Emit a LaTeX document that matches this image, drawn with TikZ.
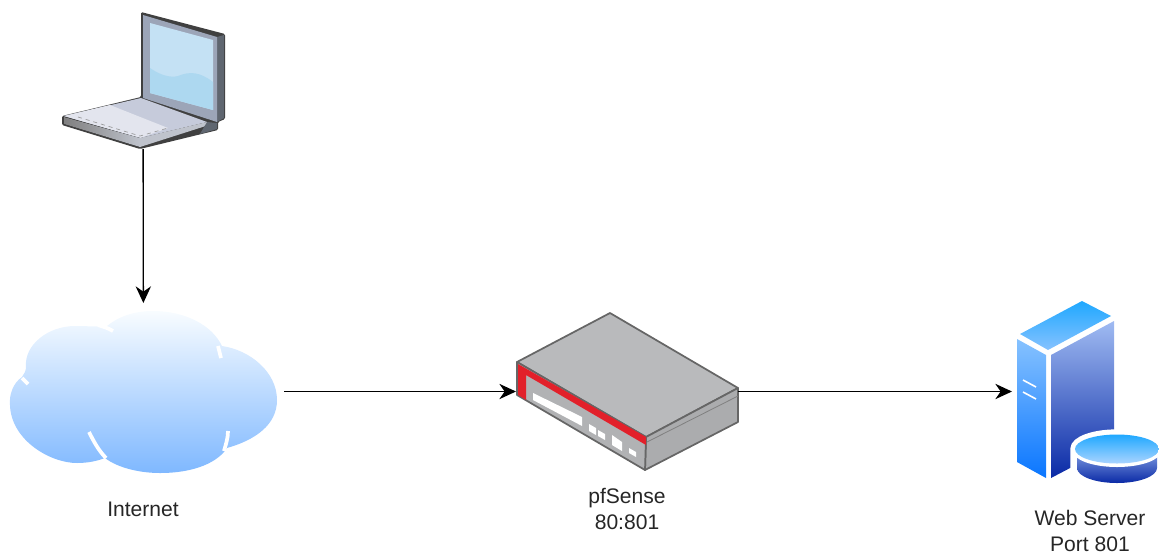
\documentclass[tikz,border=0pt]{standalone}
\usepackage{fontspec}
\setmainfont{Liberation Sans}
\usetikzlibrary{arrows.meta}
\definecolor{lidframe}{HTML}{9CA5B8}
\definecolor{lidside}{HTML}{5F6670}
\definecolor{screentop}{HTML}{C4E1F4}
\definecolor{screenlow}{HTML}{ADD8F0}
\definecolor{basetop}{HTML}{C6CBDB}
\definecolor{baselight}{HTML}{E3E5EE}
\definecolor{basefront}{HTML}{BFC3CC}
\definecolor{cloudtop}{HTML}{F8FCFF}
\definecolor{cloudlow}{HTML}{7FB8FF}
\definecolor{fwtop}{HTML}{B9BABC}
\definecolor{fwright}{HTML}{ABACAE}
\definecolor{fwfront}{HTML}{B1B2B4}
\definecolor{fwred}{HTML}{E2202A}
\definecolor{srvcyan}{HTML}{1FA8FF}
\definecolor{srvpale}{HTML}{86C2FF}
\definecolor{srvleft}{HTML}{0A76FF}
\definecolor{srvright}{HTML}{A0BBF2}
\definecolor{srvdark}{HTML}{0A2AA6}
\tikzset{
iconbox/.style={inner sep=0pt,outer sep=0pt},
link/.style={-{Stealth[length=12.5pt,width=11.5pt,inset=4pt]},line width=1pt,black},
lbl/.style={align=center,text=black!85,font=\fontsize{15.8}{18.9}\selectfont},
gap/.style={white,line width=2.8pt},
fwedge/.style={draw=black!60,line width=1.3pt,line join=round}
}
\begin{document}
\begin{tikzpicture}[x=.75pt,y=-.75pt]
\useasboundingbox (0,0) rectangle (1159,554);
% laptop
\fill[black!75,rounded corners=1pt] (141,12)--(225,34)--(225,119)--(218,122)--(218,130)--(140,149)--(62,125)--(62,116)--(141,97)--cycle;
\fill[lidside] (217,37)--(224,35)--(224,118)--(217,122)--cycle;
\fill[lidframe] (143,15)--(217,37)--(217,122)--(143,98)--cycle;
\fill[screentop] (150,23)--(213,40)--(213,110)--(150,93)--cycle;
\fill[screenlow] (150,68).. controls (160,75) and (170,78) .. (178,76).. controls (190,71) and (200,72) .. (213,82)--(213,110)--(150,93)--cycle;
\fill[basetop] (64,116)--(141,98)--(207,122)--(140,138)--cycle;
\fill[baselight] (64,116)--(110,105)--(168,128)--(140,138)--cycle;
\fill[left color=black!50,right color=basefront] (64,117)--(140,138)--(140,147)--(64,124)--cycle;
\fill[basefront] (140,138)--(207,122)--(212,124)--(140,147)--cycle;
\fill[lidside] (207,122)--(217,123)--(217,129)--(200,134)--cycle;
\draw[black!40,dashed,line width=.5pt] (78,117)--(140,136)--(168,128);
% cloud
\shade[top color=cloudtop,bottom color=cloudlow] (22,377)
.. controls (13,383) and (9,395) .. (10,405)
.. controls (11,440) and (50,463) .. (77,463)
.. controls (88,463) and (97,461) .. (105,458)
.. controls (118,468) and (140,473) .. (160,473)
.. controls (195,473) and (218,462) .. (227,448)
.. controls (255,440) and (277,425) .. (277,400)
.. controls (277,372) and (250,350) .. (222,346)
.. controls (212,325) and (185,311) .. (153,311)
.. controls (133,311) and (118,317) .. (107,326)
.. controls (98,327) and (87,326) .. (75,326)
.. controls (48,326) and (24,345) .. (26,367)
.. controls (26,371) and (24,374) .. (22,377)--cycle;
\draw[gap] (22,378)--(28,384);
\draw[gap] (89,432) .. controls (94,442) and (99,451) .. (106,458);
\draw[gap] (228,431) .. controls (228,438) and (226,444) .. (224,451);
\draw[gap] (218,346)--(221,358);
\draw[gap] (113,331) .. controls (108,328) and (104,327) .. (98,325);
% firewall
\filldraw[fwedge,fill=fwtop] (610,313)--(738,388)--(646,437)--(517,362)--cycle;
\filldraw[fwedge,fill=fwright] (646,437)--(738,388)--(738,422)--(645,470)--cycle;
\filldraw[fwedge,fill=fwfront] (517,362)--(646,437)--(645,470)--(517,395)--cycle;
\draw[black!50,line width=.6pt] (647,442)--(738,396);
\fill[fwred] (518,364)--(646,437)--(646,445)--(526,375)--(526,400)--(518,395)--cycle;
\fill[white] (533,393)--(582,417)--(582,426)--(533,400)--cycle;
\fill[white] (589,424)--(596,428)--(596,435)--(589,431)--cycle;
\fill[white] (598,430)--(605,434)--(605,440)--(598,436)--cycle;
\fill[white] (612,435)--(622,442)--(622,451)--(612,445)--cycle;
\fill[white] (629,448)--(636,452)--(636,457)--(629,453)--cycle;
% server
\shade[top color=srvcyan,bottom color=srvpale] (1082,301)--(1111,316)--(1048,350)--(1020,334)--cycle;
\shade[top color=srvpale,bottom color=srvleft] (1017,339)--(1046,355)--(1046,478)--(1017,462)--cycle;
\shade[top color=srvright,bottom color=srvdark] (1051,355)--(1114,321)--(1114,445)--(1051,478)--cycle;
\draw[white,line width=1.2pt] (1023,380)--(1036,387);
\draw[white,line width=1.2pt] (1023,392)--(1036,399);
\draw[white,line width=7pt,fill=white] (1075,449)--(1075,468) arc[start angle=180,end angle=0,x radius=42,y radius=15]--(1159,449) arc[start angle=0,end angle=-180,x radius=42,y radius=15]--cycle;
\shade[top color=srvright!70!srvdark,bottom color=srvdark] (1077,455)--(1077,468) arc[start angle=180,end angle=0,x radius=40,y radius=15]--(1157,455)--cycle;
\fill[white] (1117,451) ellipse (44 and 16);
\shade[top color=srvcyan,bottom color=srvpale!70!white] (1117,449) ellipse (42 and 14.5);
% nodes
\node[iconbox,minimum width=127.5pt,minimum height=103.5pt] (laptop) at (143,80) {};
\node[iconbox,minimum width=210.75pt,minimum height=132.75pt] (internet) at (143.5,391.5) {};
\node[iconbox,minimum width=166.5pt,minimum height=117pt] (pfsense) at (627,391.5) {};
\node[iconbox,minimum width=117pt,minimum height=136.5pt] (webserver) at (1090,391.5) {};
\draw[link] (laptop)--(internet);
\draw[link] (internet)--(pfsense);
\draw[link] (pfsense)--(webserver);
\node[lbl] (internetlbl) at (143,509) {Internet};
\node[lbl] (pfsenselbl) at (627,509) {pfSense\\80:801};
\node[lbl] (webserverlbl) at (1090,531) {Web Server\\Port 801};
\end{tikzpicture}
\end{document}
